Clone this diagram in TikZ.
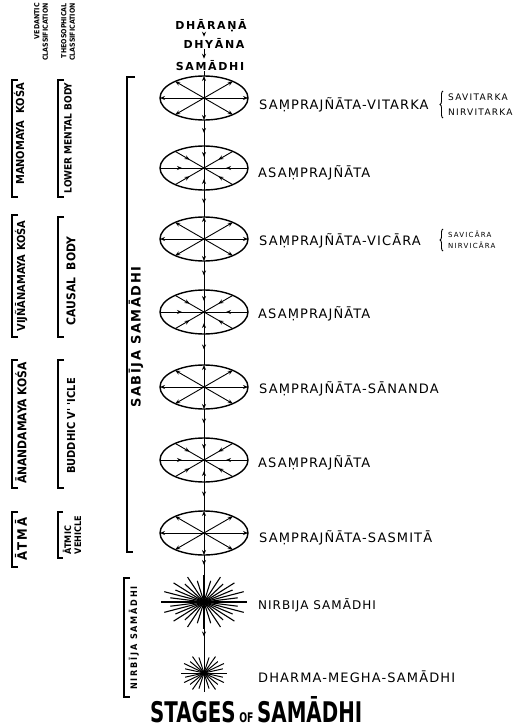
\documentclass[tikz,border=0pt]{standalone}
\usepackage{fontspec}
\usepackage{graphicx}
\usetikzlibrary{shapes.geometric,arrows.meta,decorations.markings,decorations.pathreplacing}
\newfontfamily\labfont[LetterSpace=8.5]{DejaVu Sans}
\newfontfamily\cbfont{DejaVu Sans Condensed}
\newfontfamily\plainfont{DejaVu Sans}
\begin{document}
\begin{tikzpicture}[x=1pt,y=-1pt,
  ell/.style={ellipse, draw, line width=1.4pt, minimum width=88pt, minimum height=44pt, inner sep=0pt, outer sep=0pt},
  ray/.style={line width=0.9pt},
  tip/.style={-{Stealth[length=5pt,width=4pt]}},
  midarrow/.style={postaction={decorate}, decoration={markings, mark=at position #1 with {\arrow{Stealth[length=5pt,width=4pt]}}}},
  midarrow/.default=0.5,
  lab/.style={font={\labfont\fontsize{13}{14}\selectfont}, anchor=base west, inner sep=0pt},
  sublab/.style={font={\plainfont\fontsize{9}{10}\selectfont\addfontfeature{LetterSpace=14}}, anchor=base west, inner sep=0pt},
  subsm/.style={font={\plainfont\fontsize{7}{8}\selectfont\addfontfeature{LetterSpace=17}}, anchor=base west, inner sep=0pt},
  topw/.style={font={\plainfont\bfseries\fontsize{11}{12}\selectfont\addfontfeature{LetterSpace=15}}, anchor=base, inner sep=1pt},
  rtxt/.style={rotate=90, inner sep=0pt},
  hdr/.style={rotate=90, anchor=east, align=right, inner sep=0pt, font={\cbfont\bfseries\fontsize{7}{8.5}\selectfont}},
  brk/.style={line width=1.2pt},
  core/.style={ellipse, fill=black, inner sep=0pt, outer sep=0pt}
]
\useasboundingbox (0,0) rectangle (516,728);

% headers
\node[hdr] (hA) at (41,3) {VEDANTIC\\CLASSIFICATION};
\node[hdr] (hB) at (68,3) {THEOSOPHICAL\\CLASSIFICATION};

% left column A
\node[rtxt, font={\cbfont\bfseries\fontsize{11}{12}\selectfont}] (a1) at (19,134) {MANOMAYA\ \ KOŚA};
\node[rtxt, font={\cbfont\bfseries\fontsize{11}{12}\selectfont}] (a2) at (21,276) {VIJÑĀNAMAYA KOŚA};
\node[rtxt, font={\cbfont\bfseries\fontsize{12}{12}\selectfont}] (a3) at (21,423) {ĀNANDAMAYA KOŚA};
\node[rtxt, font={\cbfont\bfseries\fontsize{13}{13}\selectfont\addfontfeature{LetterSpace=15}}] (a4) at (21,539) {ĀTMĀ};
\draw[brk] (18,80) -- (12,80) -- (12,197) -- (18,197);
\draw[brk] (18,215) -- (12,215) -- (12,337) -- (18,337);
\draw[brk] (18,360) -- (12,360) -- (12,488) -- (18,488);
\draw[brk] (18,512) -- (12,512) -- (12,567) -- (18,567);

% left column B
\node[rtxt, font={\cbfont\bfseries\fontsize{10}{12}\selectfont}] (b1) at (68,138) {LOWER MENTAL BODY};
\node[rtxt, font={\cbfont\bfseries\fontsize{12}{12}\selectfont}] (b2) at (71,281) {CAUSAL\ \ BODY};
\node[rtxt, font={\cbfont\bfseries\fontsize{11}{12}\selectfont}] (b3) at (71,426) {BUDDHIC V' 'ICLE};
\node[rtxt, align=left, font={\cbfont\bfseries\fontsize{9}{10}\selectfont}] (b4) at (72,535) {ĀTMIC\\VEHICLE};
\draw[brk] (64,80) -- (58,80) -- (58,197) -- (64,197);
\draw[brk] (64,217) -- (58,217) -- (58,337) -- (64,337);
\draw[brk] (64,360) -- (58,360) -- (58,488) -- (64,488);
\draw[brk] (63,512) -- (58,512) -- (58,558) -- (63,558);

% sabija / nirbija
\node[rtxt, font={\plainfont\bfseries\fontsize{13}{13}\selectfont\addfontfeature{LetterSpace=12}}] (sb) at (136,337) {SABĪJA SAMĀDHI};
\draw[brk] (135,77) -- (127,77) -- (127,552) -- (133,552);
\node[rtxt, font={\cbfont\bfseries\fontsize{9}{9}\selectfont\addfontfeature{LetterSpace=20}}] (nb) at (134,638) {NIRBĪJA SAMĀDHI};
\draw[brk] (130,578) -- (124,578) -- (124,697) -- (130,697);

% top words
\node[topw] (t1) at (211,29) {DHĀRAṆĀ};
\node[topw] (t2) at (214,48) {DHYĀNA};
\node[topw] (t3) at (210,70) {SAMĀDHI};
\draw[ray,tip] (t1.south -| 204,0) -- (t2.north -| 204,0);
\draw[ray,tip] (t2.south -| 204,0) -- (t3.north -| 204,0);

% ellipses
\foreach \n/\y in {e1/98,e3/239,e5/387,e7/533}{
  \node[ell] (\n) at (204,\y) {};
  \foreach \a in {0,30,90,150,180,210,270,330}
    \draw[ray,tip] (\n.center) -- (\n.\a);
}
\foreach \n/\y in {e2/168,e4/312,e6/460}{
  \node[ell] (\n) at (204,\y) {};
  \foreach \a in {0,30,90,150,180,210,270,330}
    \draw[ray,midarrow] (\n.\a) -- (\n.center);
}
\draw[ray] (t3.south -| e1.center) -- (e1.north);
\draw[ray,midarrow] (e1.south) -- (e2.north);
\draw[ray,midarrow] (e2.south) -- (e3.north);
\draw[ray,midarrow] (e3.south) -- (e4.north);
\draw[ray,midarrow] (e4.south) -- (e5.north);
\draw[ray,midarrow] (e5.south) -- (e6.north);
\draw[ray,midarrow] (e6.south) -- (e7.north);

% starbursts
\node[core, minimum width=10pt, minimum height=7pt] (s1) at (204,602) {};
\foreach \a [count=\i] in {0,11.25,...,349}{
  \pgfmathsetmacro\f{mod(\i,2)==1 ? 1 : 0.8}
  \draw[line width=1.1pt] (s1.center) -- ++({43*\f*cos(\a)},{27*\f*sin(\a)});
}
\node[core, minimum width=7pt, minimum height=5pt] (s2) at (204,673) {};
\foreach \a [count=\i] in {0,15,...,349}{
  \pgfmathsetmacro\f{mod(\i,2)==1 ? 1 : 0.85}
  \draw[line width=1pt] (s2.center) -- ++({23*\f*cos(\a)},{19*\f*sin(\a)});
}
\coordinate (s1t) at (204,575);
\coordinate (s1b) at (204,629);
\coordinate (s2t) at (204,654);
\draw[ray,midarrow] (e7.south) -- (s1t);
\draw[ray,midarrow=0.3] (s1b) -- (s2t);

% labels
\node[lab] (l1) at (259,109) {SAṂPRAJÑĀTA-VITARKA};
\node[lab] (l2) at (258,177) {ASAṂPRAJÑĀTA};
\node[lab] (l3) at (259,245) {SAṂPRAJÑĀTA-VICĀRA};
\node[lab] (l4) at (258,318) {ASAṂPRAJÑĀTA};
\node[lab] (l5) at (259,393) {SAṂPRAJÑĀTA-SĀNANDA};
\node[lab] (l6) at (258,467) {ASAṂPRAJÑĀTA};
\node[lab] (l7) at (259,542) {SAṂPRAJÑĀTA-SASMITĀ};
\node[lab, font={\labfont\fontsize{12}{13}\selectfont}] (l8) at (258,609) {NIRBIJA SAMĀDHI};
\node[lab] (l9) at (258,682) {DHARMA-MEGHA-SAMĀDHI};

% sub labels with braces
\node[sublab] (v1) at (448,100) {SAVITARKA};
\node[sublab] (v2) at (448,115) {NIRVITARKA};
\draw[line width=0.9pt, decorate, decoration={brace, amplitude=3pt}] (443,118) -- (443,91);
\node[subsm] (c1) at (448,237) {SAVICĀRA};
\node[subsm] (c2) at (448,248) {NIRVICĀRA};
\draw[line width=0.9pt, decorate, decoration={brace, amplitude=3pt}] (443,251) -- (443,229);

% title
\node[anchor=base west, inner sep=0pt] (title) at (150,722) {\resizebox{212pt}{26pt}{\cbfont\bfseries\fontsize{30}{30}\selectfont STAGES\,{\fontsize{14}{14}\selectfont OF}\,SAMĀDHI}};
\end{tikzpicture}
\end{document}
